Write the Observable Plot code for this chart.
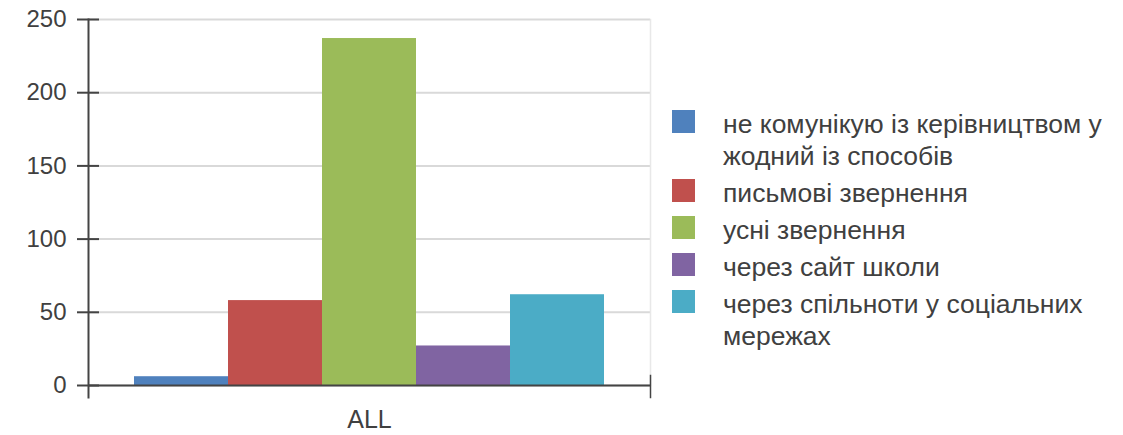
<!DOCTYPE html>
<html>
<head>
<meta charset="utf-8">
<script src="https://cdn.jsdelivr.net/npm/d3@7"></script>
<script src="https://cdn.jsdelivr.net/npm/@observablehq/plot@0.6"></script>
<style>
  html, body { margin: 0; padding: 0; background: #fff; }
  #wrap { position: relative; width: 1123px; height: 435px; font-family: "Liberation Sans", Arial, sans-serif; }
  #chart { position: absolute; left: 0; top: 0; }
  #legend { position: absolute; left: 672px; top: 108px; color: #404040; font-size: 26.5px; line-height: 32px; }
  .item { display: flex; align-items: flex-start; margin-bottom: 5px; }
  .sw { width: 23px; height: 23px; margin-top: 2px; flex: none; }
  .lab { margin-left: 28px; width: 420px; }
</style>
</head>
<body>
<div id="wrap"><div id="chart"></div><div id="legend"></div></div>
<script>
const groups = ["ALL"];
const series = [
  "не комунікую із керівництвом у жодний із способів",
  "письмові звернення",
  "усні звернення",
  "через сайт школи",
  "через спільноти у соціальних мережах"
];
const values = [6, 58, 237, 27, 62];
const colors = ["#4F81BD", "#C0504D", "#9BBB59", "#8064A2", "#4BACC6"];
const yTicks = [0, 50, 100, 150, 200, 250];

const data = series.map((s, i) => ({group: groups[0], series: s, value: values[i]}));

const chart = Plot.plot({
  width: 660,
  height: 435,
  marginLeft: 88,
  marginRight: 10,
  marginTop: 19,
  marginBottom: 50,
  style: {fontFamily: "'Liberation Sans', Arial, sans-serif", color: "#404040", background: "white"},
  fx: {domain: groups, padding: 0, label: null},
  x: {domain: series, paddingInner: 0, paddingOuter: 0.476, axis: null},
  y: {domain: [0, 250], label: null},
  color: {domain: series, range: colors},
  marks: [
    Plot.gridY(yTicks, {stroke: "#d9d9d9", strokeOpacity: 1, strokeWidth: 2}),
    Plot.frame({anchor: "right", stroke: "#e8e8e8", strokeWidth: 1.5}),
    Plot.barY(data, {fx: "group", x: "series", y: "value", fill: "series"}),
    Plot.ruleY([0], {stroke: "#444", strokeWidth: 2}),
    Plot.frame({anchor: "left", stroke: "#444", strokeWidth: 2, insetBottom: -12}),
    Plot.frame({anchor: "right", stroke: "#444", strokeWidth: 1.5, insetTop: 356, insetBottom: -12}),
    Plot.axisY(yTicks, {tickSize: 22, dx: 11, tickPadding: 11, fontSize: 24, stroke: "#444", strokeWidth: 2, label: null}),
    Plot.axisFx({anchor: "bottom", tickSize: 0, tickPadding: 25, fontSize: 25, label: null})
  ]
});
document.getElementById("chart").appendChild(chart);

const legend = document.getElementById("legend");
series.forEach((s, i) => {
  const item = document.createElement("div");
  item.className = "item";
  const sw = document.createElement("div");
  sw.className = "sw";
  sw.style.background = colors[i];
  const lab = document.createElement("div");
  lab.className = "lab";
  lab.textContent = s;
  item.appendChild(sw);
  item.appendChild(lab);
  legend.appendChild(item);
});
</script>
</body>
</html>
